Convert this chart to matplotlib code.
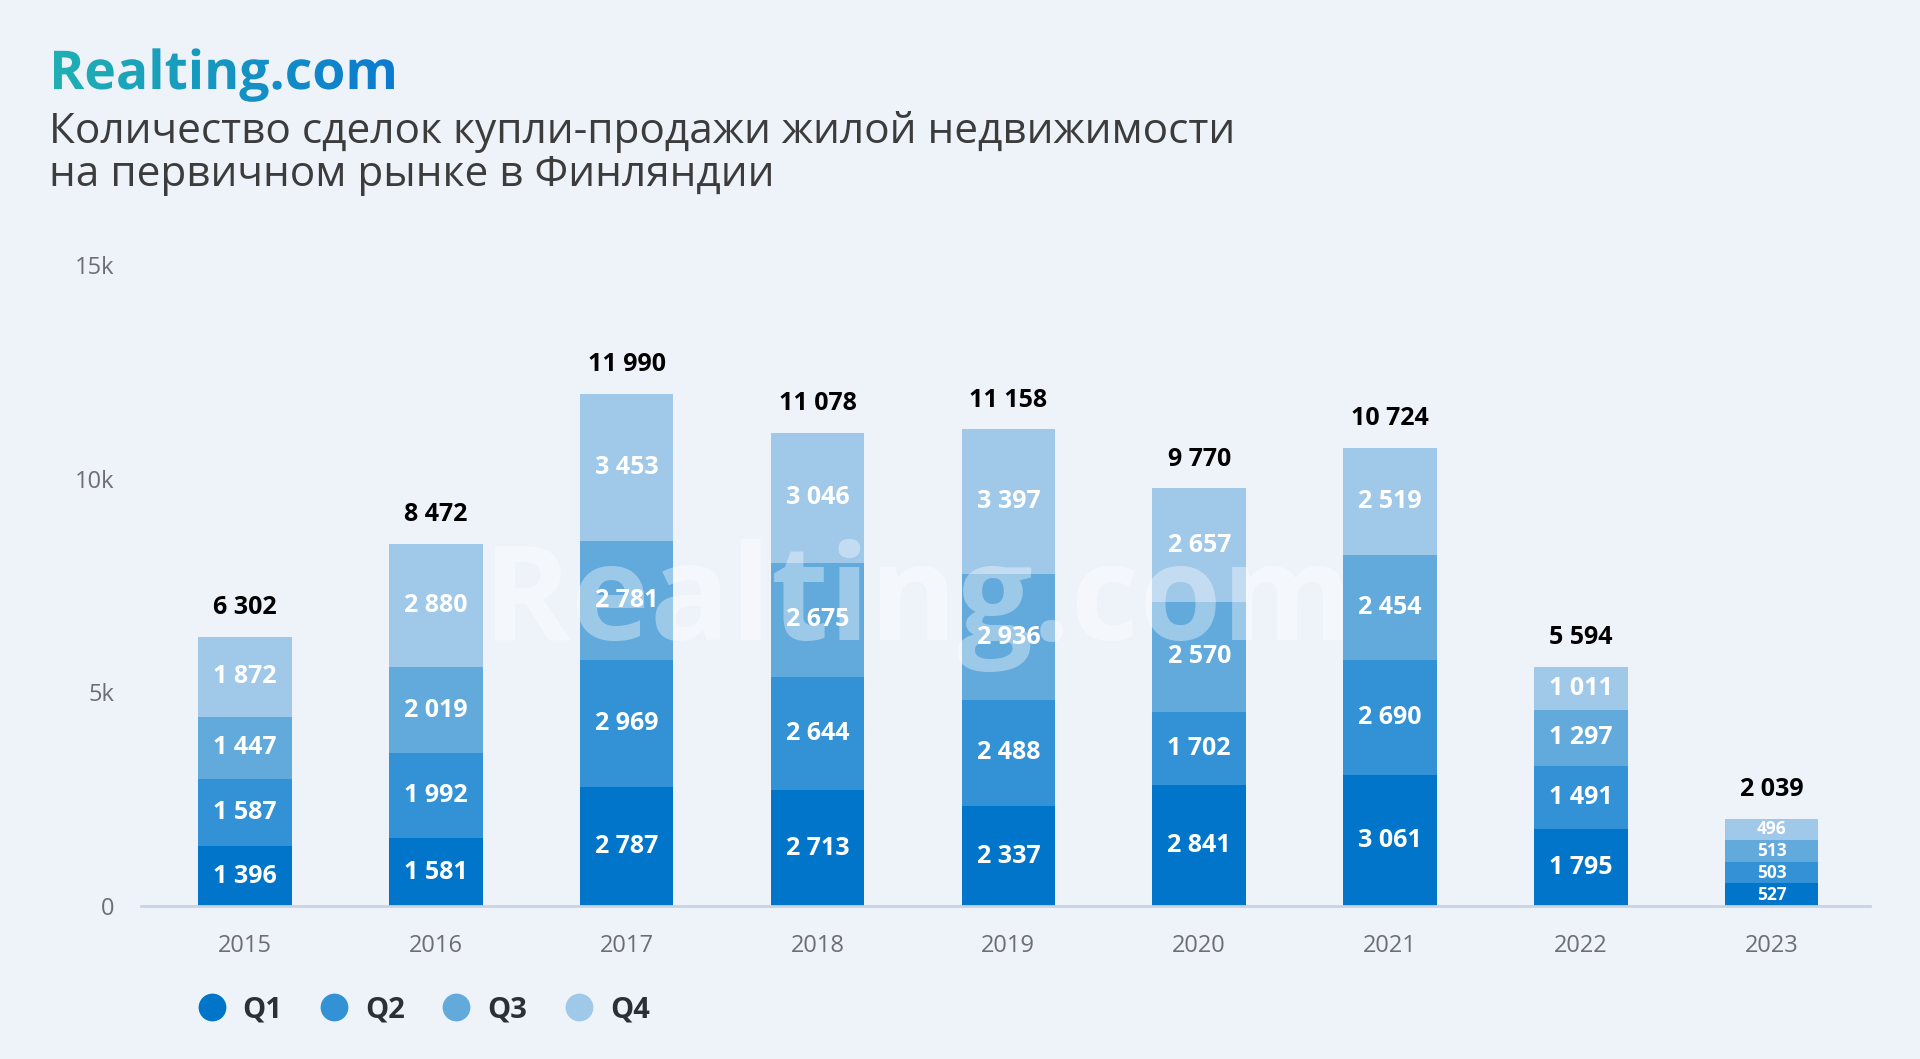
"""Realting.com: primary-market residential deals in Finland, stacked by quarter."""
import numpy as np
import matplotlib
matplotlib.use("Agg")
import matplotlib.pyplot as plt
from matplotlib.lines import Line2D
from matplotlib.textpath import TextPath
from matplotlib.patches import PathPatch
from matplotlib.font_manager import FontProperties
from matplotlib.colors import LinearSegmentedColormap

plt.rcParams["font.family"] = ["Open Sans", "DejaVu Sans"]

years = ["2015", "2016", "2017", "2018", "2019", "2020", "2021", "2022", "2023"]
q1 = [1396, 1581, 2787, 2713, 2337, 2841, 3061, 1795, 527]
q2 = [1587, 1992, 2969, 2644, 2488, 1702, 2690, 1491, 503]
q3 = [1447, 2019, 2781, 2675, 2936, 2570, 2454, 1297, 513]
q4 = [1872, 2880, 3453, 3046, 3397, 2657, 2519, 1011, 496]
series_names = ["Q1", "Q2", "Q3", "Q4"]
colors = ["#0075CA", "#3391D6", "#62A9DC", "#A0C8E9"]
ytick_vals = [0, 5000, 10000, 15000]
ytick_labels = ["0", "5k", "10k", "15k"]

BG = "#EEF3FA"
W, H = 1920, 1059


def fmt(v):
    return f"{v:,}".replace(",", " ")


fig = plt.figure(figsize=(W / 100, H / 100), dpi=100, facecolor=BG)
ax = fig.add_axes([141 / W, 1 - 906 / H, (1870 - 141) / W, (906 - 265) / H])
ax.set_facecolor(BG)

x = np.arange(len(years))
bottom = np.zeros(len(years))
containers = []
for vals, name, c in zip([q1, q2, q3, q4], series_names, colors):
    bc = ax.bar(x, vals, bottom=bottom, width=0.49, color=c, label=name, zorder=2)
    containers.append(bc)
    texts = ax.bar_label(bc, labels=[fmt(v) for v in vals], label_type="center",
                         color="white", fontweight="bold", fontsize=18, zorder=4)
    for t, v in zip(texts, vals):
        if v < 700:
            t.set_fontsize(12.5)
    bottom += np.array(vals)

totals = bottom.astype(int)
ax.bar_label(containers[-1], labels=[fmt(v) for v in totals], padding=12,
             color="black", fontweight="bold", fontsize=18, zorder=4)

# faint watermark between bars and labels
ax.text(918 / W, 1 - 606 / H, "Realting.com", transform=fig.transFigure,
        fontsize=96, fontweight="bold", color="white", alpha=0.38,
        ha="center", va="center", zorder=3)

ax.set_xlim(-0.545, 8.515)
ax.set_ylim(0, 15000)
ax.set_xticks(x, years)
ax.set_yticks(ytick_vals, ytick_labels)
ax.tick_params(axis="both", length=0, labelcolor="#6E6E72", labelsize=17)
ax.tick_params(axis="x", pad=20)
ax.tick_params(axis="y", pad=19)
for s in ["top", "right", "left"]:
    ax.spines[s].set_visible(False)
ax.spines["bottom"].set_color("#C9D3E3")
ax.spines["bottom"].set_linewidth(2)

# overlay in pixel coordinates for the gradient logo
ov = fig.add_axes([0, 0, 1, 1])
ov.set_zorder(5)
ov.patch.set_visible(False)

logo = TextPath((49, H - 89), "Realting.com", size=53.5,
                prop=FontProperties(family="Open Sans", weight="bold"))
lp = PathPatch(logo, facecolor="none", edgecolor="none")
ov.add_patch(lp)
bb = logo.get_extents()
grad = np.linspace(0, 1, 256).reshape(1, -1)
cmap = LinearSegmentedColormap.from_list("logo", ["#20B0B3", "#0B7BD1"])
im = ov.imshow(grad, extent=[bb.x0, bb.x1, bb.y0, bb.y1], cmap=cmap, aspect="auto")
im.set_clip_path(lp)
ov.set_xlim(0, W)
ov.set_ylim(0, H)
ov.axis("off")

fig.text(49 / W, 1 - 143 / H, "Количество сделок купли-продажи жилой недвижимости",
         fontsize=30.5, color="#3C3C3C", va="baseline")
fig.text(49 / W, 1 - 186 / H, "на первичном рынке в Финляндии",
         fontsize=30.5, color="#3C3C3C", va="baseline")

handles = [Line2D([], [], marker="o", linestyle="", markersize=20, color=c,
                  markeredgewidth=0) for c in colors]
leg = fig.legend(handles, series_names, loc="center left",
                 bbox_to_anchor=(197 / W, 1 - 1010 / H), ncol=4, frameon=False,
                 fontsize=21, handlelength=1.0, handletextpad=0.56,
                 columnspacing=1.27, borderpad=0, borderaxespad=0)
for t in leg.get_texts():
    t.set_fontweight("bold")
    t.set_color("#2B2F36")

fig.savefig("out.png", dpi=100, facecolor=BG)
